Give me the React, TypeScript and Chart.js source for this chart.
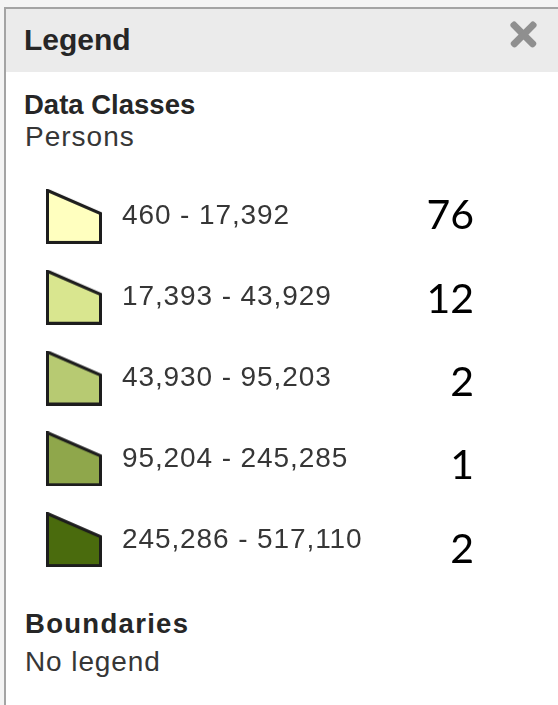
import React, { useEffect, useRef } from "react";
import { Chart, registerables } from "chart.js";

Chart.register(...registerables);

const PANEL_TITLE = "Legend";
const SECTION_TITLE = "Data Classes";
const FIELD_NAME = "Persons";
const BOUNDARIES_TITLE = "Boundaries";
const BOUNDARIES_TEXT = "No legend";

const RANGE_LABELS = [
  "460 - 17,392",
  "17,393 - 43,929",
  "43,930 - 95,203",
  "95,204 - 245,285",
  "245,286 - 517,110",
];
const COUNTS = [76, 12, 2, 1, 2];
const SWATCH_COLORS = ["#ffffbf", "#d9e68f", "#b7ca72", "#8fa74b", "#4a6b0d"];

function makeSwatch(color: string): HTMLCanvasElement {
  const c = document.createElement("canvas");
  c.width = 56;
  c.height = 55;
  const g = c.getContext("2d")!;
  g.beginPath();
  g.moveTo(1.5, 1.5);
  g.lineTo(54.5, 24.5);
  g.lineTo(54.5, 53.5);
  g.lineTo(1.5, 53.5);
  g.closePath();
  g.fillStyle = color;
  g.fill();
  g.lineWidth = 3;
  g.lineJoin = "miter";
  g.strokeStyle = "#1d1d1d";
  g.stroke();
  return c;
}

const textPlugin = {
  id: "rowText",
  afterDatasetsDraw(chart: any) {
    const ctx = chart.ctx as CanvasRenderingContext2D;
    ctx.save();
    const m0 = chart.getDatasetMeta(0);
    ctx.font = '28px "Liberation Sans", Arial, sans-serif';
    (ctx as any).letterSpacing = "0.9px";
    ctx.fillStyle = "#363636";
    ctx.textAlign = "left";
    ctx.textBaseline = "alphabetic";
    m0.data.forEach((pt: any, i: number) => {
      ctx.fillText(RANGE_LABELS[i], pt.x + 48, pt.y + 8);
    });
    const m1 = chart.getDatasetMeta(1);
    ctx.font = '41px Lato, "Open Sans", sans-serif';
    (ctx as any).letterSpacing = "0px";
    ctx.fillStyle = "#000000";
    ctx.textAlign = "right";
    m1.data.forEach((pt: any, i: number) => {
      ctx.fillText(String(COUNTS[i]), pt.x, pt.y + 14.7);
    });
    ctx.restore();
  },
};

function LegendChart() {
  const ref = useRef<HTMLCanvasElement | null>(null);
  useEffect(() => {
    if (!ref.current) return;
    const swatches = SWATCH_COLORS.map(makeSwatch);
    const chart = new Chart(ref.current, {
      type: "scatter",
      data: {
        datasets: [
          {
            data: RANGE_LABELS.map((l) => ({ x: 0, y: l })) as any,
            pointStyle: swatches as any,
            pointRadius: 28,
            pointHoverRadius: 28,
            pointBorderWidth: 0,
            clip: false as any,
            yAxisID: "y",
          },
          {
            data: COUNTS.map((_c, i) => ({ x: 1, y: i })),
            pointRadius: 0,
            pointHoverRadius: 0,
            yAxisID: "y2",
          },
        ],
      },
      options: {
        animation: false,
        responsive: false,
        maintainAspectRatio: false,
        devicePixelRatio: 1,
        events: [],
        layout: { autoPadding: false, padding: { left: 74, right: 84, top: 0, bottom: 0 } } as any,
        scales: {
          x: { type: "linear", min: 0, max: 1, display: false },
          y: { type: "category", labels: RANGE_LABELS, offset: true, display: false } as any,
          y2: { type: "linear", reverse: true, min: -0.462, max: 4.384, display: false },
        },
        plugins: {
          legend: { display: false },
          tooltip: { enabled: false },
        },
      },
      plugins: [textPlugin],
    });
    return () => chart.destroy();
  }, []);
  return (
    <canvas
      ref={ref}
      width={558}
      height={404}
      style={{ position: "absolute", left: 0, top: 176, width: 558, height: 404 }}
    />
  );
}

export default function App() {
  const font = '"Liberation Sans", Arial, Helvetica, sans-serif';
  const abs = (o: any): React.CSSProperties => ({
    position: "absolute",
    lineHeight: 1,
    whiteSpace: "nowrap",
    margin: 0,
    ...o,
  });
  return (
    <div
      style={{
        position: "fixed",
        left: 0,
        top: 0,
        width: 558,
        height: 705,
        overflow: "hidden",
        background: "#f4f4f4",
        fontFamily: font,
      }}
    >
      <div
        style={{
          position: "absolute",
          left: 4,
          top: 7,
          width: 600,
          height: 720,
          borderTop: "2px solid #a4a4a4",
          borderLeft: "2px solid #a4a4a4",
          background: "#ffffff",
        }}
      />
      <div
        style={{
          position: "absolute",
          left: 6,
          top: 9,
          width: 560,
          height: 63,
          background: "#ebebeb",
        }}
      />
      <div style={abs({ left: 24, top: 25, fontSize: 30, fontWeight: 700, color: "#262626" })}>
        {PANEL_TITLE}
      </div>
      <div
        style={{
          position: "absolute",
          left: 507,
          top: 30.5,
          width: 33,
          height: 6.5,
          background: "#8f8f8f",
          borderRadius: 3,
          transform: "rotate(45deg)",
        }}
      />
      <div
        style={{
          position: "absolute",
          left: 507,
          top: 30.5,
          width: 33,
          height: 6.5,
          background: "#8f8f8f",
          borderRadius: 3,
          transform: "rotate(-45deg)",
        }}
      />
      <div style={abs({ left: 24, top: 91, fontSize: 27.5, fontWeight: 700, color: "#262626" })}>
        {SECTION_TITLE}
      </div>
      <div style={abs({ left: 25, top: 122.5, fontSize: 28, color: "#363636", letterSpacing: "1px" })}>
        {FIELD_NAME}
      </div>
      <LegendChart />
      <div
        style={abs({
          left: 25,
          top: 610,
          fontSize: 27.5,
          fontWeight: 700,
          color: "#262626",
          letterSpacing: "1.3px",
        })}
      >
        {BOUNDARIES_TITLE}
      </div>
      <div style={abs({ left: 25, top: 647.5, fontSize: 28, color: "#363636", letterSpacing: "0.9px" })}>
        {BOUNDARIES_TEXT}
      </div>
    </div>
  );
}
